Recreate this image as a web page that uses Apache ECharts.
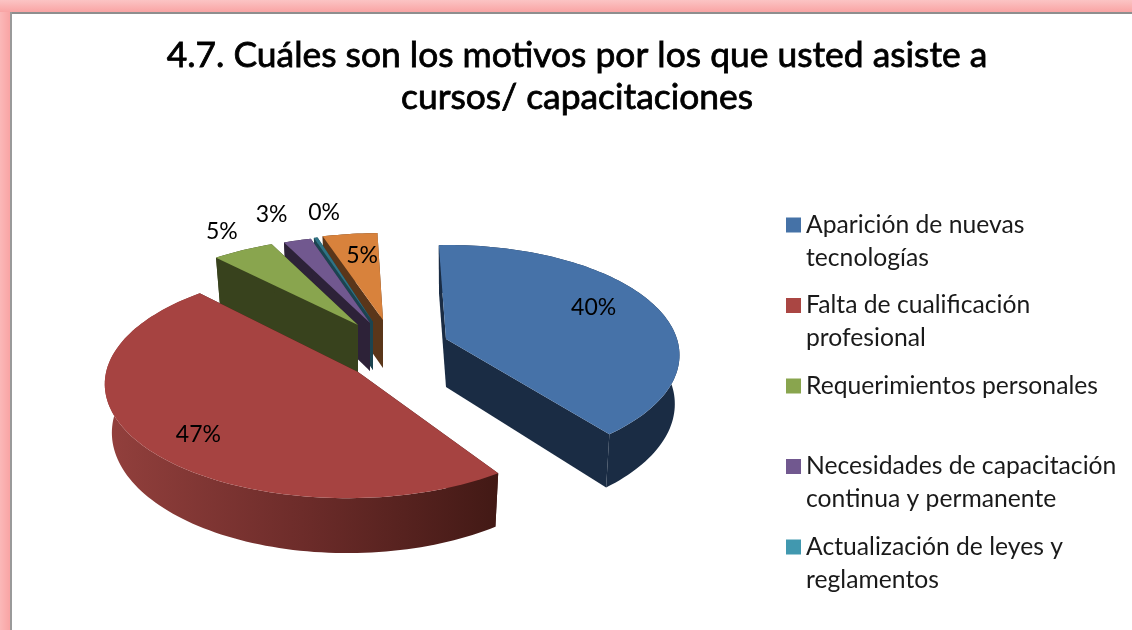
<!DOCTYPE html>
<html><head><meta charset="utf-8">
<style>html,body{margin:0;padding:0;background:#fff}#c{width:1132px;height:630px}</style>
<script src="https://cdn.jsdelivr.net/npm/echarts@6/dist/echarts.min.js"></script>
</head><body><div id="c"></div>
<script>
const titleLines = ['4.7. Cuáles son los motivos por los que usted asiste a', 'cursos/ capacitaciones'];
const categories = ['Aparición de nuevas\ntecnologías', 'Falta de cualificación\nprofesional', 'Requerimientos personales', 'Necesidades de capacitación\ncontinua y permanente', 'Actualización de leyes y\nreglamentos', 'Otros'];
const values = [40.4, 46.8, 4.9, 2.2, 0.3, 4.4];
const percentLabels = ['40%', '47%', '5%', '3%', '0%', '5%'];
const legendShown = [0, 1, 2, 3, 4];

// appearance: projection of the tilted, exploded pie
const legendColors = ['#4572A7', '#AA4643', '#89A54E', '#71588F', '#4198AF', '#DB843D'];
const topColors  = ['#4672A8', '#A64341', '#89A54E', '#71588F', '#2F7385', '#D8823C'];
const wallColors = ['#1A2C44', '#431A16', '#38421D', '#2D2238', '#1B4450', '#5A361A'];
const apexes = [[446,339],[358,372],[358,325],[370,323],[373,322],[383,320]];
const apexU = [0.22, -0.135, -0.135, -0.09, -0.075, -0.03];
const apexV = [0.06, -0.25, 0.19, 0.21, 0.22, 0.24];
const scaleX = [0.98, 0.973, 1, 1, 1, 1];
const scaleY = [1.06, 1.04, 1, 1, 1, 1];
const driftX = [5, -7, 0, 0, 0, 0];
const driftY = [0, -6, 0, 0, 0, 0];
const gaps = [-1.5, 5.5, 1.5, 0, 0, -1.5];
const labelRadius = [0.73, 0.80, 1.27, 1.38, 1.33, 0.72];
const labelTurn = [-4, -5, 1.5, -0.5, 5.5, 1.5];
const drawOrder = [5, 4, 3, 2, 0, 1];
const START = -2, WIDE = 236.6, HIGH = 103, KV = 0.15, KU = 0.0139, DEPTH = 48, FONT = 'Lato, "Noto Sans", sans-serif';

function sliceRange(i) {
  let a = START;
  for (let j = 0; j < i; j++) a += values[j] * 3.6 + gaps[j];
  a += gaps[i];
  return [a, a + values[i] * 3.6];
}
function project(i, deg, r, bottom) {
  const t = deg * Math.PI / 180, X = Math.sin(t) * r, Y = Math.cos(t) * r;
  const s = 1 / (1 + KV * (Y + apexV[i]) + KU * (X + apexU[i]));
  let dx = WIDE * X * s * scaleX[i] + driftX[i] * r, dy = -HIGH * Y * s * scaleY[i] + driftY[i] * r;
  if (bottom) { dx *= dx > 0 ? 0.98 : 0.972; dy = (dy > 0 ? dy * 1.055 : dy) + DEPTH; }
  return [apexes[i][0] + dx, apexes[i][1] + dy];
}
function poly(points, fill, z2) {
  return { type: 'polygon', shape: { points }, style: { fill, stroke: null }, z2, silent: true };
}
function renderSlice(params, api) {
  const i = api.value(1), range = sliceRange(i);
  const arcT = [], arcB = [];
  const n = Math.max(4, Math.ceil((range[1] - range[0]) / 1.5));
  for (let k = 0; k <= n; k++) {
    const a = range[0] + (range[1] - range[0]) * k / n;
    arcT.push(project(i, a, 1, false));
    arcB.push(project(i, a, 1, true));
  }
  const apexT = project(i, 0, 0, false), apexB = project(i, 0, 0, true);
  const wall = wallColors[i];
  const mid = (range[0] + range[1]) / 2;
  const rimFront = Math.cos(mid * Math.PI / 180) < 0;
  const rimFill = i === 1
    ? { type: 'linear', x: 0, y: 0, x2: 1, y2: 0, colorStops: [
        { offset: 0, color: '#93403D' }, { offset: 0.5, color: '#6D2C2A' }, { offset: 1, color: '#421915' }] }
    : wall;
  const children = [
    poly(arcT.concat(arcB.slice().reverse()), rimFill, rimFront ? 3 : 1),
    poly([apexT, arcT[0], arcB[0], apexB], wall, 2),
    poly([apexT, arcT[n], arcB[n], apexB], wall, 2),
    poly([apexT].concat(arcT), topColors[i], 4)
  ];
  const p = project(i, mid + labelTurn[i], labelRadius[i], false);
  children.push({ type: 'text', z2: 10, silent: true, style: {
    text: percentLabels[i], x: p[0], y: p[1], fill: '#000', font: '23px ' + FONT, align: 'center', verticalAlign: 'middle' } });
  return { type: 'group', children };
}

const series = drawOrder.map((i, order) => ({
  type: 'custom', name: categories[i], coordinateSystem: 'none', renderItem: renderSlice,
  itemStyle: { color: legendColors[i] },
  data: [[values[i], i]], z: 2 + order, animation: false, silent: true
}));

const legends = legendShown.map((i, n) => {
  const lines = categories[i].split('\n');
  return {
    show: true, data: [categories[i]], left: 786, top: 175.5 + n * 80.5, orient: 'vertical', selectedMode: false,
    icon: 'rect', itemWidth: 15, itemHeight: 15, itemGap: 0, padding: 0,
    formatter: () => '\u00a0\n' + lines[0] + '\n' + (lines[1] || '\u00a0'),
    textStyle: { fontFamily: FONT, fontSize: 24.7, lineHeight: 33, color: '#1a1a1a' }
  };
});

const titleStyle = { fontFamily: FONT, fontSize: 35.4, fontWeight: 'normal', color: '#000', textBorderColor: '#000', textBorderWidth: 0.8 };
const chart = echarts.init(document.getElementById('c'), null, { renderer: 'canvas' });
chart.setOption({
  animation: false,
  backgroundColor: '#fff',
  title: [
    { text: titleLines[0], left: 572, top: 33, textAlign: 'center', textStyle: titleStyle },
    { text: titleLines[1], left: 572, top: 75, textAlign: 'center', textStyle: titleStyle }
  ],
  legend: legends,
  graphic: [
    { type: 'rect', shape: { x: 0, y: 0, width: 1132, height: 12 }, silent: true, z: 0, style: { fill: { type: 'linear', x: 0, y: 0, x2: 0, y2: 1, colorStops: [{ offset: 0, color: '#FBC4C4' }, { offset: 1, color: '#F9A4A4' }] } } },
    { type: 'rect', shape: { x: 0, y: 12, width: 10, height: 618 }, silent: true, z: 0, style: { fill: { type: 'linear', x: 0, y: 0, x2: 1, y2: 0, colorStops: [{ offset: 0, color: '#FBB8B8' }, { offset: 1, color: '#F9A4A4' }] } } },
    { type: 'rect', shape: { x: 10, y: 12, width: 1122, height: 2 }, silent: true, z: 0, style: { fill: '#8E8E8E' } },
    { type: 'rect', shape: { x: 10, y: 12, width: 2, height: 618 }, silent: true, z: 0, style: { fill: '#9A9A9A' } }
  ],
  series
});
</script></body></html>
